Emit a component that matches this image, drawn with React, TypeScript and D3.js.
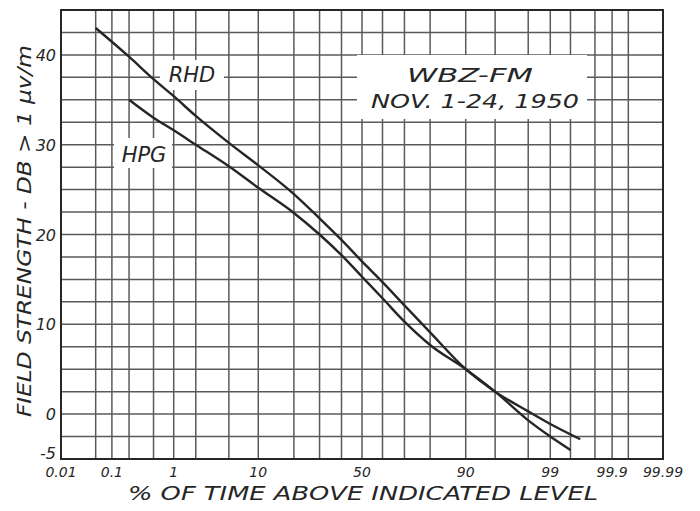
import * as d3 from "d3";

// percent of time (x) on normal-probability paper, field strength in dB (y)
const rhdPct = [0.05, 0.2, 0.5, 1, 2, 5, 10, 20, 30, 40, 50, 60, 70, 80, 90, 95, 98, 99, 99.65];
const rhdDb = [43, 39.8, 37.3, 35.4, 33.2, 30.2, 27.7, 24.5, 21.8, 19.4, 17, 14.7, 12.1, 9.1, 5, 2.5, 0.3, -1.1, -2.8];
const hpgPct = [0.2, 0.5, 1, 2, 5, 10, 20, 30, 40, 50, 60, 70, 80, 90, 95, 98, 99, 99.5];
const hpgDb = [35, 33, 31.6, 30, 27.6, 25.2, 22.4, 20, 17.7, 15.3, 12.9, 10.3, 7.7, 5, 2.5, -0.7, -2.5, -4];

const gridPct = [0.01, 0.05, 0.1, 0.2, 0.5, 1, 2, 5, 10, 20, 30, 40, 50, 60, 70, 80, 90, 95, 98, 99, 99.5, 99.8, 99.9, 99.95, 99.99];
const tickPct = [0.01, 0.1, 1, 10, 50, 90, 99, 99.9, 99.99];
const tickPctLabels = ["0.01", "0.1", "1", "10", "50", "90", "99", "99.9", "99.99"];
const tickDb = [40, 30, 20, 10, 0, -5];

const width = 700;
const height = 511;
const left = 61;
const right = 663;
const top = 10;
const bottom = 459;

// inverse normal CDF (Acklam) -> probability paper
function probit(p: number) {
  const a = [-39.69683028665376, 220.9460984245205, -275.9285104469687, 138.357751867269, -30.66479806614716, 2.506628277459239];
  const b = [-54.47609879822406, 161.5858368580409, -155.6989798598866, 66.80131188771972, -13.28068155288572];
  const c = [-0.007784894002430293, -0.3223964580411365, -2.400758277161838, -2.549732539343734, 4.374664141464968, 2.938163982698783];
  const d = [0.007784695709041462, 0.3224671290700398, 2.445134137142996, 3.754408661907416];
  const pl = 0.02425;
  if (p < pl) {
    const q = Math.sqrt(-2 * Math.log(p));
    return (((((c[0] * q + c[1]) * q + c[2]) * q + c[3]) * q + c[4]) * q + c[5]) /
      ((((d[0] * q + d[1]) * q + d[2]) * q + d[3]) * q + 1);
  }
  if (p > 1 - pl) return -probit(1 - p);
  const q = p - 0.5;
  const r = q * q;
  return (((((a[0] * r + a[1]) * r + a[2]) * r + a[3]) * r + a[4]) * r + a[5]) * q /
    (((((b[0] * r + b[1]) * r + b[2]) * r + b[3]) * r + b[4]) * r + 1);
}

const zMax = -probit(0.0001);
const xz = d3.scaleLinear().domain([-zMax, zMax]).range([left, right]);
const x = (pct: number) => xz(probit(pct / 100));
const y = d3.scaleLinear().domain([-5, 45]).range([bottom, top]);

const line = d3
  .line<[number, number]>()
  .x((d) => x(d[0]))
  .y((d) => y(d[1]))
  .curve(d3.curveMonotoneX);

const rhd = rhdPct.map((p, i) => [p, rhdDb[i]] as [number, number]);
const hpg = hpgPct.map((p, i) => [p, hpgDb[i]] as [number, number]);

const font = "'DejaVu Sans', sans-serif";
const ink = "#262626";
const gridInk = "#5a5a5a";

export default function App() {
  const dbLines = d3.range(-2.5, 45, 2.5);
  return (
    <svg
      width={width}
      height={height}
      style={{ position: "absolute", left: 0, top: 0, background: "#fff" }}
      fontFamily={font}
      fontStyle="italic"
    >
      <rect width={width} height={height} fill="#fff" />
      <g stroke={gridInk} strokeWidth={1.5}>
        {gridPct.slice(1, -1).map((p) => (
          <line key={p} x1={x(p)} x2={x(p)} y1={top} y2={bottom} />
        ))}
        {dbLines.map((v) => (
          <line key={v} x1={left} x2={right} y1={y(v)} y2={y(v)} />
        ))}
      </g>
      <rect x={left} y={top} width={right - left} height={bottom - top} fill="none" stroke={ink} strokeWidth={2} />

      {/* white patches behind hand lettering */}
      <g fill="#fff">
        <rect x={160} y={60} width={64} height={30} />
        <rect x={114} y={138} width={58} height={30} />
        <rect x={357} y={55} width={230} height={64} />
      </g>

      <g fill="none" stroke={ink} strokeWidth={2.4} strokeLinejoin="round">
        <path d={line(rhd) ?? ""} />
        <path d={line(hpg) ?? ""} />
      </g>

      <g fill={ink} fontSize={21}>
        <text x={192} y={y(37)} textAnchor="middle">RHD</text>
        <text x={144} y={y(28.1)} textAnchor="middle">HPG</text>
        <text x={470} y={y(37)} textAnchor="middle" fontSize={20} textLength={126} lengthAdjust="spacingAndGlyphs">WBZ-FM</text>
        <text x={475} y={y(34.1)} textAnchor="middle" fontSize={20} textLength={208} lengthAdjust="spacingAndGlyphs">NOV. 1-24, 1950</text>
      </g>

      <g fill={ink} fontSize={16} textAnchor="end">
        {tickDb.map((v) => (
          <text key={v} x={left - 5} y={y(v) + (v === -5 ? 0 : 6)}>
            {v}
          </text>
        ))}
      </g>
      <g fill={ink} fontSize={14} textAnchor="middle">
        {tickPct.map((p, i) => (
          <text key={p} x={x(p)} y={477}>
            {tickPctLabels[i]}
          </text>
        ))}
      </g>

      <text
        x={128}
        y={500}
        fontSize={20}
        fill={ink}
        textLength={470}
        lengthAdjust="spacingAndGlyphs"
      >
        % OF TIME ABOVE INDICATED LEVEL
      </text>
      <text
        transform="translate(31,417) rotate(-90)"
        fontSize={20}
        fill={ink}
        textLength={372}
        lengthAdjust="spacingAndGlyphs"
      >
        FIELD STRENGTH - DB &gt; 1 μv/m
      </text>
    </svg>
  );
}
